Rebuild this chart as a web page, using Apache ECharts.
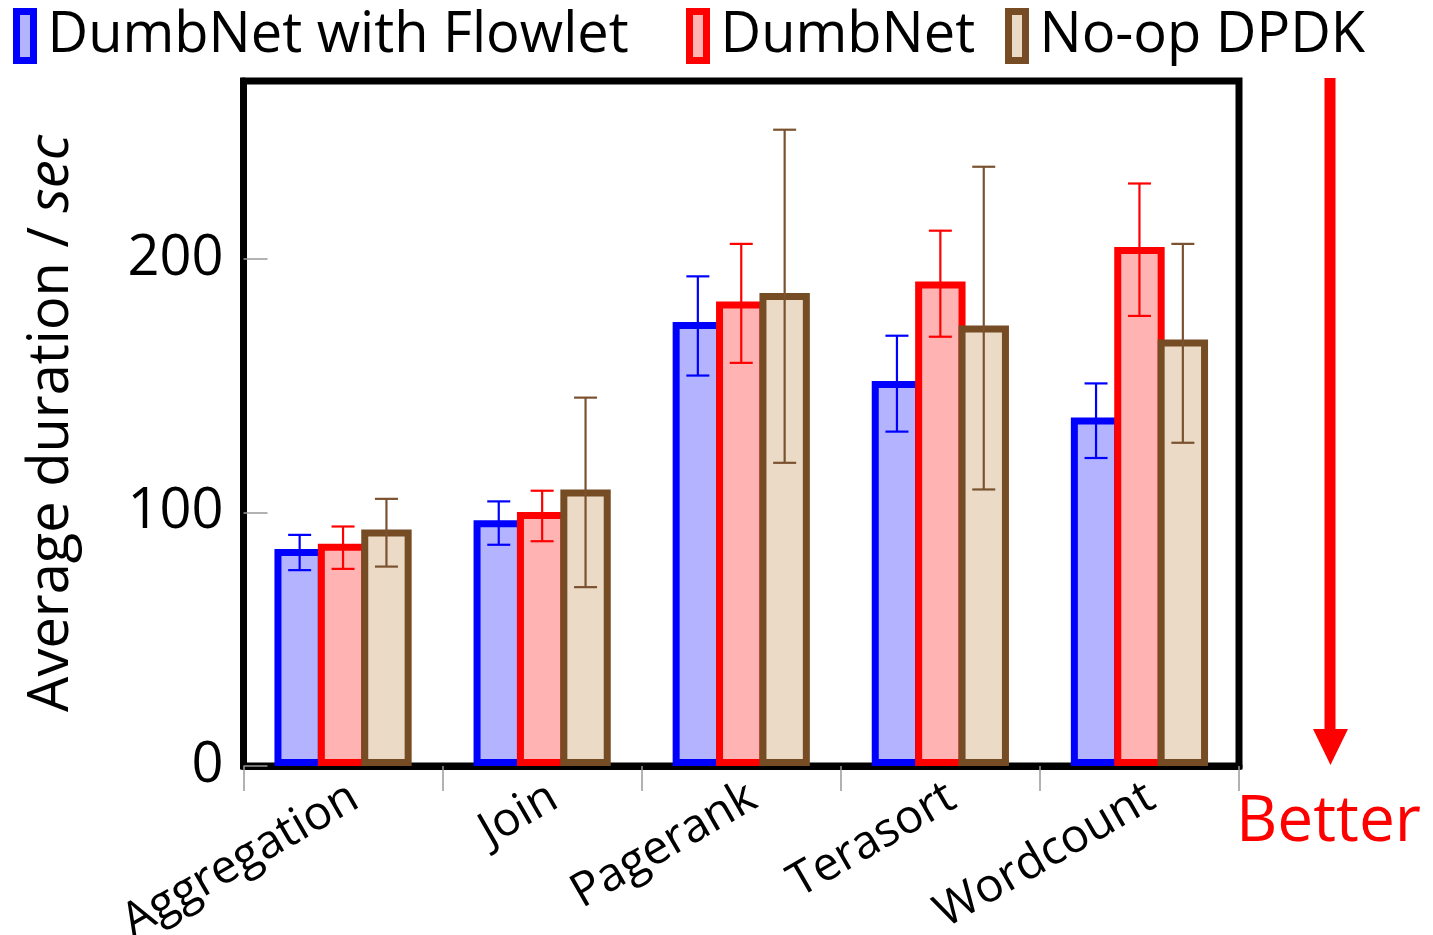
<!DOCTYPE html>
<html>
<head>
<meta charset="utf-8">
<script src="https://cdn.jsdelivr.net/npm/echarts@6/dist/echarts.min.js"></script>
<style>
html,body{margin:0;padding:0;background:#fff;}
#chart{width:1433px;height:935px;}
</style>
</head>
<body>
<div id="chart"></div>
<script>
const categories = ['Aggregation', 'Join', 'Pagerank', 'Terasort', 'Wordcount'];
const seriesNames = ['DumbNet with Flowlet', 'DumbNet', 'No-op DPDK'];

const flowletMean = [85.5, 96.9, 175.0, 151.8, 137.4];
const flowletLow  = [77.2, 87.2, 153.9, 131.8, 121.4];
const flowletHigh = [91.1, 104.3, 193.0, 169.6, 150.8];

const dumbnetMean = [87.6, 100.1, 183.1, 191.0, 204.6];
const dumbnetLow  = [77.7, 88.6, 158.9, 169.2, 177.4];
const dumbnetHigh = [94.4, 108.5, 205.8, 211.0, 229.6];

const dpdkMean = [93.2, 109.0, 186.4, 173.6, 168.1];
const dpdkLow  = [78.6, 70.5, 119.5, 109.0, 127.4];
const dpdkHigh = [105.3, 145.2, 250.8, 236.2, 205.8];

const yTicks = [0, 100, 200];

const FONT = 'Open Sans';
const STEP = 43.4;      // distance between adjacent bar centres (px)
const BAR_W = 50.4;     // outer bar width incl. border (px)
const borderColors = ['#0000ff', '#ff0000', '#754c24'];
const fillColors = ['#b3b3ff', '#ffb3b3', '#ebdac6'];
const errColors = ['#0000ff', '#ff0000', '#7a5230'];

const means = [flowletMean, dumbnetMean, dpdkMean];
const lows = [flowletLow, dumbnetLow, dpdkLow];
const highs = [flowletHigh, dumbnetHigh, dpdkHigh];

const chart = echarts.init(document.getElementById('chart'), null, {renderer: 'canvas'});

const barSeries = seriesNames.map((name, i) => ({
  name: name,
  type: 'bar',
  barWidth: BAR_W,
  barGap: (-(BAR_W - STEP) / BAR_W * 100).toFixed(2) + '%',
  data: means[i],
  z: 2,
  itemStyle: {color: fillColors[i], borderColor: borderColors[i], borderWidth: 7},
  emphasis: {disabled: true}
}));

const errSeries = seriesNames.map((name, i) => ({
  name: name + ' err',
  type: 'custom',
  z: 5,
  silent: true,
  clip: false,
  data: categories.map((c, k) => [k, lows[i][k], highs[i][k]]),
  encode: {x: 0, y: [1, 2]},
  renderItem: function (params, api) {
    const k = api.value(0);
    const lo = api.coord([k, api.value(1)]);
    const hi = api.coord([k, api.value(2)]);
    const x = lo[0] + (i - 1) * STEP;
    const hw = 11.5;
    const st = {stroke: errColors[i], lineWidth: 2.2};
    return {
      type: 'group',
      children: [
        {type: 'line', shape: {x1: x, y1: hi[1], x2: x, y2: lo[1]}, style: st},
        {type: 'line', shape: {x1: x - hw, y1: hi[1], x2: x + hw, y2: hi[1]}, style: st},
        {type: 'line', shape: {x1: x - hw, y1: lo[1], x2: x + hw, y2: lo[1]}, style: st}
      ]
    };
  }
}));

const legendLefts = [13, 686, 1005];
const legends = seriesNames.map((name, i) => ({
  data: [name],
  left: legendLefts[i],
  top: 8,
  padding: 0,
  orient: 'horizontal',
  itemWidth: 17,
  itemHeight: 49,
  icon: 'rect',
  itemStyle: {color: fillColors[i], borderColor: borderColors[i], borderWidth: 7},
  textStyle: {fontFamily: FONT, fontSize: 56, color: '#000', padding: [0, 0, 0, 9]},
  selectedMode: false
}));

const option = {
  animation: false,
  backgroundColor: '#fff',
  textStyle: {fontFamily: FONT},
  legend: legends,
  grid: {
    left: 243.5, right: 194, top: 81, bottom: 169,
    show: true, borderColor: '#000', borderWidth: 7, backgroundColor: 'transparent',
    containLabel: false, outerBoundsMode: 'none'
  },
  xAxis: {
    type: 'category',
    data: categories,
    boundaryGap: true,
    axisLine: {show: true, lineStyle: {color: '#000', width: 7}},
    axisTick: {show: true, length: 25, inside: false, lineStyle: {color: '#999', width: 1.5}},
    axisLabel: {rotate: 30, margin: 8, fontSize: 47, color: '#000', fontFamily: FONT, interval: 0, verticalAlign: 'top'},
    splitLine: {show: false}
  },
  yAxis: {
    type: 'value',
    min: 0, max: 270, interval: 100,
    name: '{a|Average duration / }{b|sec}',
    nameLocation: 'middle',
    nameRotate: 90,
    nameGap: 163,
    nameTextStyle: {
      rich: {
        a: {fontFamily: FONT, fontSize: 56, color: '#000'},
        b: {fontFamily: FONT, fontSize: 56, color: '#000', fontStyle: 'italic'}
      }
    },
    axisLine: {show: true, lineStyle: {color: '#000', width: 7}},
    axisTick: {show: true, inside: true, length: 24, customValues: yTicks, lineStyle: {color: '#999', width: 1.5}},
    axisLabel: {
      fontSize: 56, color: '#000', fontFamily: FONT, margin: 20, customValues: yTicks,
      formatter: function (v) { return yTicks.indexOf(v) >= 0 ? String(v) : ''; }
    },
    splitLine: {show: false}
  },
  graphic: [
    {type: 'line', z: 10, shape: {x1: 1330, y1: 78, x2: 1330, y2: 740}, style: {stroke: '#ff0000', lineWidth: 11}},
    {type: 'polygon', z: 10, shape: {points: [[1313, 729], [1348, 729], [1330.5, 765]]}, style: {fill: '#ff0000'}},
    {type: 'text', z: 10, x: 1236, y: 823, style: {text: 'Better', fill: '#ff0000', font: '64px "Open Sans"', textAlign: 'left', textVerticalAlign: 'middle'}}
  ],
  series: barSeries.concat(errSeries)
};

chart.setOption(option);
</script>
</body>
</html>
